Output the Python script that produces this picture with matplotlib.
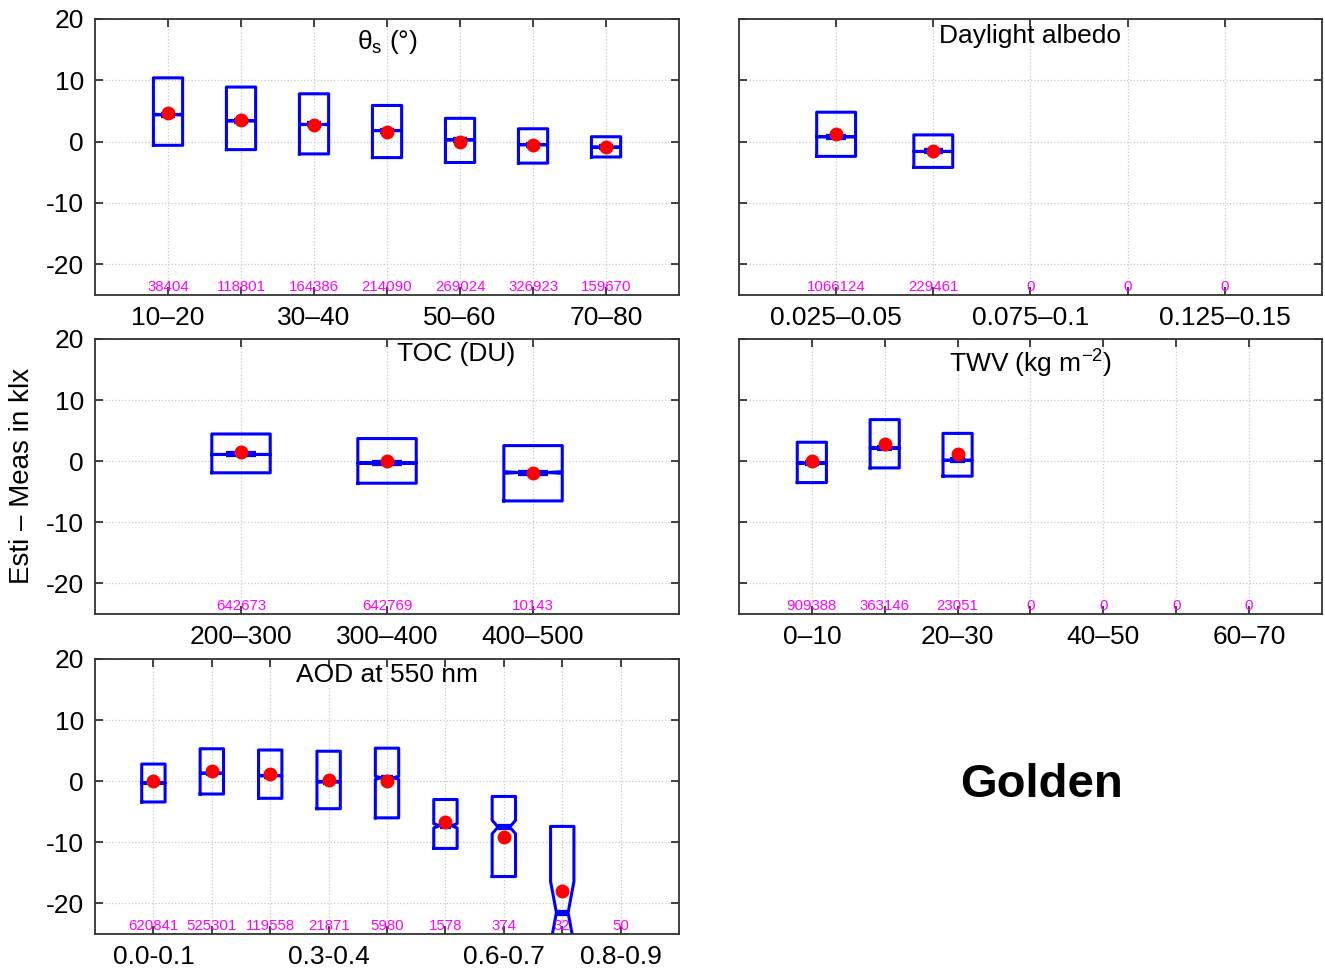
import matplotlib
matplotlib.use("Agg")
import matplotlib.pyplot as plt

plt.rcParams['font.family'] = ['Liberation Sans', 'DejaVu Sans']
plt.rcParams['mathtext.default'] = 'regular'
plt.rcParams['axes.unicode_minus'] = False

# ---- datos ----
# panel 1: angulo cenital solar
sza_labels = ["10–20", "", "30–40", "", "50–60", "", "70–80"]
sza_n = [38404, 118801, 164386, 214090, 269024, 326923, 159670]
sza_q3 = [10.4, 8.9, 7.8, 5.9, 3.8, 2.1, 0.8]
sza_q1 = [-0.6, -1.3, -2.0, -2.6, -3.4, -3.5, -2.5]
sza_med = [4.4, 3.4, 2.8, 1.8, 0.3, -0.5, -0.9]
sza_mean = [4.7, 3.5, 2.65, 1.5, 0.0, -0.6, -0.8]
sza_notch = [0.08, 0.05, 0.04, 0.03, 0.02, 0.02, 0.02]

# panel 2: albedo
alb_labels = ["0.025–0.05", "", "0.075–0.1", "", "0.125–0.15"]
alb_n = [1066124, 229461, 0, 0, 0]
alb_q3 = [4.8, 1.1]
alb_q1 = [-2.4, -4.2]
alb_med = [0.8, -1.6]
alb_mean = [1.25, -1.5]
alb_notch = [0.01, 0.02]

# panel 3: ozono
toc_labels = ["200–300", "300–400", "400–500"]
toc_n = [642673, 642769, 10143]
toc_q3 = [4.45, 3.7, 2.55]
toc_q1 = [-1.9, -3.6, -6.5]
toc_med = [1.1, -0.3, -1.85]
toc_mean = [1.45, 0.1, -2.0]
toc_notch = [0.01, 0.01, 0.14]

# panel 4: vapor de agua
twv_labels = ["0–10", "", "20–30", "", "40–50", "", "60–70"]
twv_n = [909388, 363146, 23051, 0, 0, 0, 0]
twv_q3 = [3.1, 6.8, 4.55]
twv_q1 = [-3.5, -1.1, -2.45]
twv_med = [-0.3, 2.15, 0.15]
twv_mean = [-0.05, 2.85, 1.1]
twv_notch = [0.01, 0.02, 0.07]

# panel 5: AOD
aod_labels = ["0.0-0.1", "", "", "0.3-0.4", "", "", "0.6-0.7", "", "0.8-0.9"]
aod_n = [620841, 525301, 119558, 21871, 5980, 1578, 374, 32, 50]
aod_q3 = [2.8, 5.3, 5.1, 4.9, 5.4, -3.0, -2.5, -7.4]
aod_q1 = [-3.4, -2.1, -2.8, -4.5, -6.0, -11.0, -15.6, -26.5]
aod_med = [-0.3, 1.3, 0.9, -0.1, 0.55, -7.3, -7.5, -21.5]
aod_mean = [-0.05, 1.6, 1.1, 0.2, 0.1, -6.7, -9.2, -17.9]
aod_notch = [0.01, 0.02, 0.05, 0.11, 0.25, 0.35, 1.1, 5.1]


def panel(ax, labels, counts, q3, q1, med, mean, notch, title, tx, ty, ylabels):
    stats = []
    for i in range(len(q3)):
        stats.append(dict(med=med[i], q1=q1[i], q3=q3[i],
                          cilo=med[i] - notch[i], cihi=med[i] + notch[i],
                          whislo=q1[i], whishi=q3[i], mean=mean[i], fliers=[]))
    pos = list(range(1, len(stats) + 1))
    ax.bxp(stats, positions=pos, widths=0.4, shownotches=True, showmeans=True,
           showfliers=False, showcaps=False,
           boxprops=dict(color='blue', linewidth=2.2),
           whiskerprops=dict(visible=False),
           medianprops=dict(color='blue', linewidth=4.5, solid_capstyle='butt'),
           meanprops=dict(marker='o', markerfacecolor='red', markeredgecolor='red',
                          markersize=9), manage_ticks=False)
    n = len(labels)
    ax.set_xlim(0, n + 1)
    ax.set_ylim(-25, 20)
    ax.set_xticks(range(1, n + 1))
    ax.set_xticklabels(labels, fontsize=19)
    ax.set_yticks([-20, -10, 0, 10, 20])
    if ylabels:
        ax.tick_params(axis='y', labelsize=19)
    else:
        ax.set_yticklabels([])
    ax.tick_params(direction='in', length=6, width=1.2, top=True, right=True,
                   color='#222222', pad=8)
    ax.grid(True, linestyle=':', color='#c8c8c8', linewidth=0.9)
    ax.set_axisbelow(True)
    for s in ax.spines.values():
        s.set_color('#333333')
        s.set_linewidth(1.3)
    for i, c in enumerate(counts):
        ax.text(i + 1, -23.7, str(c), color='magenta', fontsize=10.8,
                ha='center', va='center')
    ax.text(tx, ty, title, transform=ax.transAxes, ha='center', va='center',
            fontsize=19)


fig = plt.figure(figsize=(13.25, 9.72), dpi=100)
ax1 = fig.add_axes([0.0717, 0.6965, 0.4408, 0.284])
ax2 = fig.add_axes([0.5577, 0.6965, 0.4400, 0.284])
ax3 = fig.add_axes([0.0717, 0.3683, 0.4408, 0.283])
ax4 = fig.add_axes([0.5577, 0.3683, 0.4400, 0.283])
ax5 = fig.add_axes([0.0717, 0.0391, 0.4408, 0.283])

panel(ax1, sza_labels, sza_n, sza_q3, sza_q1, sza_med, sza_mean, sza_notch,
      r'$\theta_s$ (°)', 0.5, 0.915, True)
panel(ax2, alb_labels, alb_n, alb_q3, alb_q1, alb_med, alb_mean, alb_notch,
      'Daylight albedo', 0.5, 0.94, False)
panel(ax3, toc_labels, toc_n, toc_q3, toc_q1, toc_med, toc_mean, toc_notch,
      'TOC (DU)', 0.618, 0.947, True)
panel(ax4, twv_labels, twv_n, twv_q3, twv_q1, twv_med, twv_mean, twv_notch,
      'TWV (kg m$^{-2}$)', 0.5, 0.91, False)
panel(ax5, aod_labels, aod_n, aod_q3, aod_q1, aod_med, aod_mean, aod_notch,
      'AOD at 550 nm', 0.5, 0.94, True)

fig.text(0.0166, 0.51, 'Esti – Meas in klx', rotation=90, fontsize=20,
         ha='center', va='center')
fig.text(0.7857, 0.192, 'Golden', fontsize=34, fontweight='bold',
         ha='center', va='center')

fig.savefig('out.png', dpi=100)
